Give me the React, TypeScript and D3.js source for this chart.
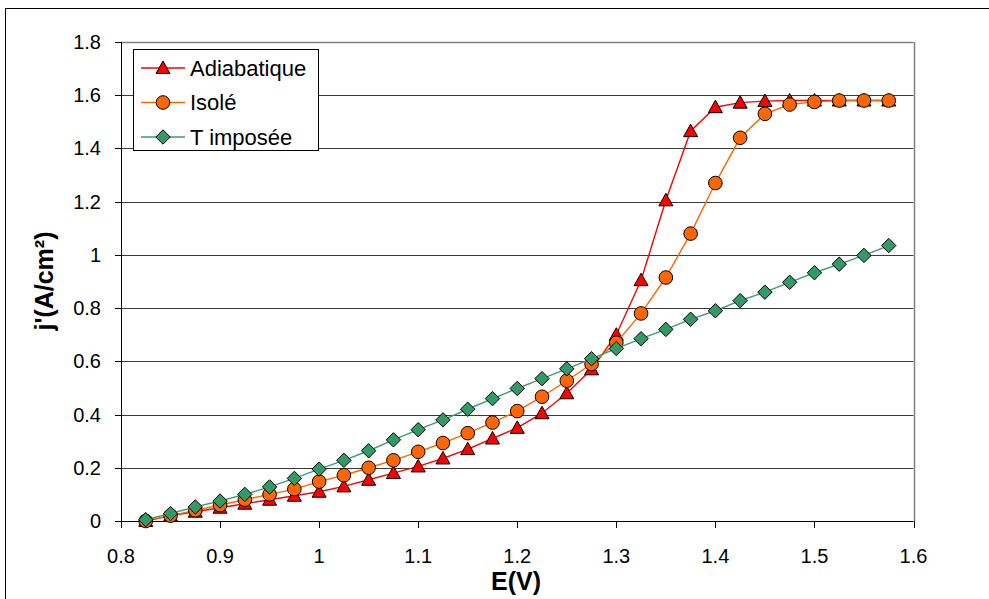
import React from "react";
import * as d3 from "d3";

const E = [0.825,0.85,0.875,0.9,0.925,0.95,0.975,1.0,1.025,1.05,1.075,1.1,1.125,1.15,1.175,1.2,1.225,1.25,1.275,1.3,1.325,1.35,1.375,1.4,1.425,1.45,1.475,1.5,1.525,1.55,1.575];

const adiabatique = [0,0.02,0.035,0.05,0.065,0.08,0.095,0.11,0.13,0.155,0.18,0.205,0.235,0.27,0.31,0.35,0.405,0.48,0.57,0.70,0.905,1.205,1.465,1.555,1.572,1.578,1.58,1.58,1.58,1.58,1.58];

const isole = [0,0.02,0.04,0.06,0.08,0.1,0.12,0.148,0.172,0.2,0.228,0.26,0.293,0.33,0.37,0.413,0.467,0.527,0.59,0.67,0.78,0.915,1.08,1.27,1.44,1.53,1.565,1.575,1.58,1.58,1.58];

const timposee = [0.005,0.028,0.053,0.075,0.1,0.128,0.16,0.195,0.228,0.264,0.305,0.343,0.38,0.42,0.46,0.498,0.535,0.572,0.61,0.648,0.685,0.72,0.758,0.79,0.828,0.86,0.897,0.933,0.965,0.998,1.035];

const seriesNames = ["Adiabatique", "Isolé", "T imposée"];
const xTicks = [0.8,0.9,1,1.1,1.2,1.3,1.4,1.5,1.6];
const yTicks = [0,0.2,0.4,0.6,0.8,1,1.2,1.4,1.6,1.8];

const W = 989, H = 599;
const L = 121, R = 913.5, T = 42, B = 521;
const FONT = "'Liberation Sans', Arial, Helvetica, sans-serif";

const series = [
  { name: seriesNames[0], values: adiabatique, line: "#FF0000", fill: "#FF0000", shape: "tri" },
  { name: seriesNames[1], values: isole, line: "#FF6600", fill: "#FF6600", shape: "circle" },
  { name: seriesNames[2], values: timposee, line: "#3A9E6E", fill: "#339966", shape: "diamond" },
];

function Marker({ shape, x, y, fill }: { shape: string; x: number; y: number; fill: string }) {
  if (shape === "circle") return <circle cx={x} cy={y} r={6.8} fill={fill} stroke="#000" strokeWidth={1} />;
  if (shape === "tri") {
    const p = `${x},${y - 7} ${x + 7},${y + 5.5} ${x - 7},${y + 5.5}`;
    return <polygon points={p} fill={fill} stroke="#000" strokeWidth={1} />;
  }
  const p = `${x},${y - 7.2} ${x + 7.2},${y} ${x},${y + 7.2} ${x - 7.2},${y}`;
  return <polygon points={p} fill={fill} stroke="#000" strokeWidth={1} />;
}

export default function App() {
  const x = d3.scaleLinear().domain([0.8, 1.6]).range([L, R]);
  const y = d3.scaleLinear().domain([0, 1.8]).range([B, T]);
  const fmt = (v: number) => String(+v.toFixed(1));

  return (
    <svg width={W} height={H} style={{ position: "absolute", left: 0, top: 0, background: "#fff" }} fontFamily={FONT}>
      <rect x={0} y={0} width={W} height={H} fill="#fff" />
      <rect x={5.5} y={8.5} width={1100} height={800} fill="none" stroke="#000" strokeWidth={1} />
      {/* gridlines */}
      {yTicks.slice(1, -1).map((t) => (
        <line key={t} x1={L} x2={R} y1={Math.round(y(t)) + 0.5} y2={Math.round(y(t)) + 0.5} stroke="#3a3a3a" strokeWidth={1} />
      ))}
      {/* plot border top/right */}
      <line x1={L} x2={R} y1={Math.round(T) + 0.5} y2={Math.round(T) + 0.5} stroke="#808080" strokeWidth={1.5} />
      <line x1={Math.round(R) + 0.5} x2={Math.round(R) + 0.5} y1={T} y2={B} stroke="#808080" strokeWidth={1.5} />
      {/* axes */}
      <line x1={Math.round(L) + 0.5} x2={Math.round(L) + 0.5} y1={T} y2={B + 0.5} stroke="#000" />
      <line x1={L} x2={R} y1={Math.round(B) + 0.5} y2={Math.round(B) + 0.5} stroke="#000" />
      {yTicks.map((t) => (
        <g key={t}>
          <line x1={L - 6} x2={L} y1={Math.round(y(t)) + 0.5} y2={Math.round(y(t)) + 0.5} stroke="#000" />
          <text x={101} y={y(t)} dy="0.35em" textAnchor="end" fontSize={20} fill="#000">{fmt(t)}</text>
        </g>
      ))}
      {xTicks.map((t) => (
        <g key={t}>
          <line x1={Math.round(x(t)) + 0.5} x2={Math.round(x(t)) + 0.5} y1={B} y2={B + 7} stroke="#000" />
          <text x={x(t)} y={556} dy="0.35em" textAnchor="middle" fontSize={20} fill="#000">{fmt(t)}</text>
        </g>
      ))}
      {/* titles */}
      <text x={516} y={581} dy="0.35em" textAnchor="middle" fontSize={25} fontWeight="bold" fill="#000">E(V)</text>
      <text transform={`translate(44,281) rotate(-90)`} dy="0.35em" textAnchor="middle" fontSize={25} fontWeight="bold" fill="#000">j'(A/cm²)</text>
      {/* series */}
      {series.map((s) => {
        const line = d3.line<number>().x((_, i) => x(E[i])).y((v) => y(v));
        return (
          <g key={s.name}>
            <path d={line(s.values) || ""} fill="none" stroke={s.line} strokeWidth={1.4} />
            {s.values.map((v, i) => (
              <Marker key={i} shape={s.shape} x={x(E[i])} y={y(v)} fill={s.fill} />
            ))}
          </g>
        );
      })}
      {/* legend */}
      <rect x={133.5} y={49.5} width={185} height={101} fill="#fff" stroke="#000" strokeWidth={1} />
      {series.map((s, i) => {
        const ly = 68 + i * 34.5;
        return (
          <g key={s.name}>
            <line x1={141} x2={185} y1={ly} y2={ly} stroke={s.line} strokeWidth={1.4} />
            <Marker shape={s.shape} x={163} y={ly} fill={s.fill} />
            <text x={190} y={ly} dy="0.35em" fontSize={22} fill="#000">{s.name}</text>
          </g>
        );
      })}
    </svg>
  );
}
